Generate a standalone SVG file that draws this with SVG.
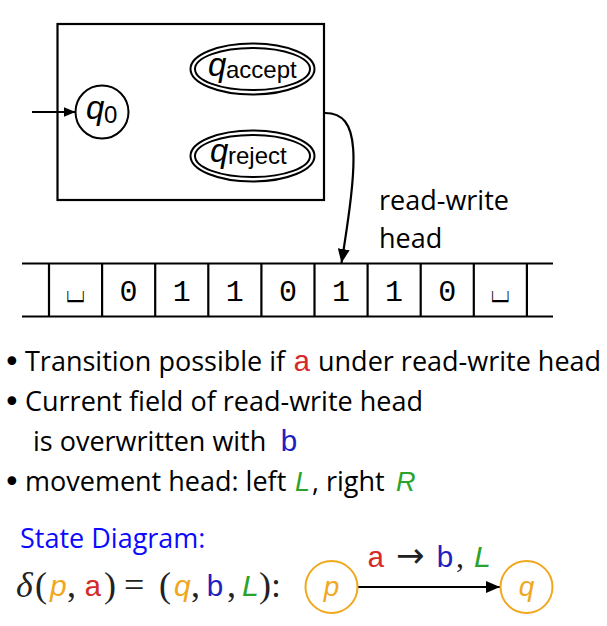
<svg xmlns="http://www.w3.org/2000/svg" width="607" height="626" viewBox="0 0 607 626">
<style>
.ln{fill:none;stroke:#000;stroke-width:2.2}
.st{fill:#fff;stroke:#000;stroke-width:2}
.tx{font-family:"Open Sans","Noto Sans",sans-serif;font-size:27px;fill:#000}
.bul{font-family:"DejaVu Sans",sans-serif;font-size:30px;fill:#000}
.qi{font-family:"Liberation Sans",sans-serif;font-style:italic;font-size:33px;fill:#000}
.sub{font-family:"Liberation Sans",sans-serif;font-size:24px;fill:#000}
.mono{font-family:"Liberation Mono",monospace;font-size:30px;fill:#000}
.cell{font-family:"Liberation Mono","DejaVu Sans Mono",monospace;font-size:30px;fill:#000;text-anchor:middle}
.blank{font-family:"Liberation Mono","Noto Sans CJK JP","DejaVu Sans Mono",monospace;font-size:22px;fill:#000;text-anchor:middle}
.red{fill:#d42a2a}
.blue{fill:#2020c0}
.green{fill:#2aa32a}
.orange{fill:#f0a81e}
.it{font-family:"Liberation Sans",sans-serif;font-style:italic}
.serif{font-family:"Liberation Serif",serif;font-size:36px;fill:#222}
.ost{fill:#fff;stroke:#f0a81e;stroke-width:2}
</style>
<defs>
<marker id="ah" viewBox="0 0 12 10" refX="12" refY="5" markerWidth="12" markerHeight="10" markerUnits="userSpaceOnUse" orient="auto">
<path d="M0,0 L12,5 L0,10 z" fill="#000"/>
</marker>
<marker id="ah2" viewBox="0 0 14 12" refX="14" refY="6" markerWidth="14" markerHeight="12" markerUnits="userSpaceOnUse" orient="auto">
<path d="M0,0 L14,6 L0,12 z" fill="#000"/>
</marker>
</defs>

<g id="machine">
<rect x="57.5" y="24" width="266.5" height="176" class="ln"/>
</g>

<g id="q0">
<circle cx="102" cy="112" r="26.5" class="st"/>
<text x="86" y="119" class="qi">q</text><text x="104" y="123" class="sub">0</text>
</g>

<g id="qaccept">
<ellipse cx="252.5" cy="69" rx="62" ry="25.5" class="st"/>
<ellipse cx="252.5" cy="69" rx="57.5" ry="21" class="st"/>
<text x="208" y="76" class="qi">q</text><text x="226" y="78" class="sub">accept</text>
</g>

<g id="qreject">
<ellipse cx="252.5" cy="156" rx="62" ry="25.5" class="st"/>
<ellipse cx="252.5" cy="156" rx="57.5" ry="21" class="st"/>
<text x="210" y="162" class="qi">q</text><text x="228" y="164" class="sub">reject</text>
</g>

<g id="tape">
<line x1="22" y1="263.5" x2="553" y2="263.5" class="ln"/>
<line x1="22" y1="316.5" x2="553" y2="316.5" class="ln"/>
<path class="ln" d="M49,263.5V316.5M102.1,263.5V316.5M155.2,263.5V316.5M208.3,263.5V316.5M261.4,263.5V316.5M314.5,263.5V316.5M367.6,263.5V316.5M420.7,263.5V316.5M473.8,263.5V316.5M526.9,263.5V316.5"/>
<text transform="translate(75.5,295.5) scale(1,2.5)" class="blank">␣</text>
<text x="128.6" y="301" class="cell">0</text>
<text x="181.7" y="301" class="cell">1</text>
<text x="234.8" y="301" class="cell">1</text>
<text x="288" y="301" class="cell">0</text>
<text x="341" y="301" class="cell">1</text>
<text x="394.1" y="301" class="cell">1</text>
<text x="447.2" y="301" class="cell">0</text>
<text transform="translate(500.3,295.5) scale(1,2.5)" class="blank">␣</text>
</g>

<g id="head-label">
<text x="379" y="210" class="tx">read-write</text>
<text x="379" y="248" class="tx">head</text>
</g>

<g id="connectors">
<line x1="32" y1="112" x2="75.5" y2="112" class="ln" marker-end="url(#ah)"/>
<path d="M324,113 C362,112 358,160 341.5,263" class="ln" marker-end="url(#ah2)"/>
<line x1="358" y1="587" x2="500" y2="587" class="ln" marker-end="url(#ah2)"/>
</g>

<g id="bullets">
<text x="3" y="372" class="bul">•</text>
<text x="25" y="371" class="tx">Transition possible if</text>
<text x="293" y="371" class="mono red">a</text>
<text x="318" y="371" class="tx">under read-write head</text>
<text x="3" y="412" class="bul">•</text>
<text x="25" y="411" class="tx">Current field of read-write head</text>
<text x="33" y="451" class="tx">is overwritten with</text>
<text x="280" y="451" class="mono blue">b</text>
<text x="3" y="492" class="bul">•</text>
<text x="25" y="491" class="tx">movement head: left</text>
<text x="295" y="491" class="tx it green">L</text>
<text x="312" y="491" class="tx">, right</text>
<text x="396" y="491" class="tx it green">R</text>
</g>

<g id="state-diagram-title">
<text x="20" y="548" class="tx" style="fill:#0a0aff">State Diagram:</text>
</g>

<g id="formula">
<text x="16" y="597" class="serif" style="font-style:italic">δ</text>
<text x="35" y="597" class="serif">(</text>
<text x="50" y="596" class="tx it orange" style="font-size:30px">p</text>
<text x="67" y="597" class="serif">,</text>
<text x="84" y="596" class="mono red">a</text>
<text x="104" y="597" class="serif">)</text>
<text x="124" y="597" class="serif">=</text>
<text x="159" y="597" class="serif">(</text>
<text x="174" y="596" class="tx it orange" style="font-size:30px">q</text>
<text x="191" y="597" class="serif">,</text>
<text x="206" y="596" class="mono blue">b</text>
<text x="227" y="597" class="serif">,</text>
<text x="242" y="596" class="tx it green" style="font-size:30px">L</text>
<text x="259" y="597" class="serif">)</text>
<text x="271" y="597" class="serif">:</text>
</g>

<g id="p">
<circle cx="331.5" cy="587" r="26" class="ost"/>
<text x="331.5" y="596" class="tx it orange" style="font-size:28px;text-anchor:middle">p</text>
</g>

<g id="q">
<circle cx="526.5" cy="587" r="26" class="ost"/>
<text x="526.5" y="596" class="tx it orange" style="font-size:28px;text-anchor:middle">q</text>
</g>

<g id="edge-label">
<text x="367" y="567" class="mono red">a</text>
<text x="396" y="567" style="font-family:'DejaVu Sans',sans-serif;font-size:34px;fill:#222">→</text>
<text x="436" y="567" class="mono blue">b</text>
<text x="456" y="567" class="serif" style="font-size:32px">,</text>
<text x="474" y="567" class="tx it green" style="font-size:30px">L</text>
</g>
</svg>
